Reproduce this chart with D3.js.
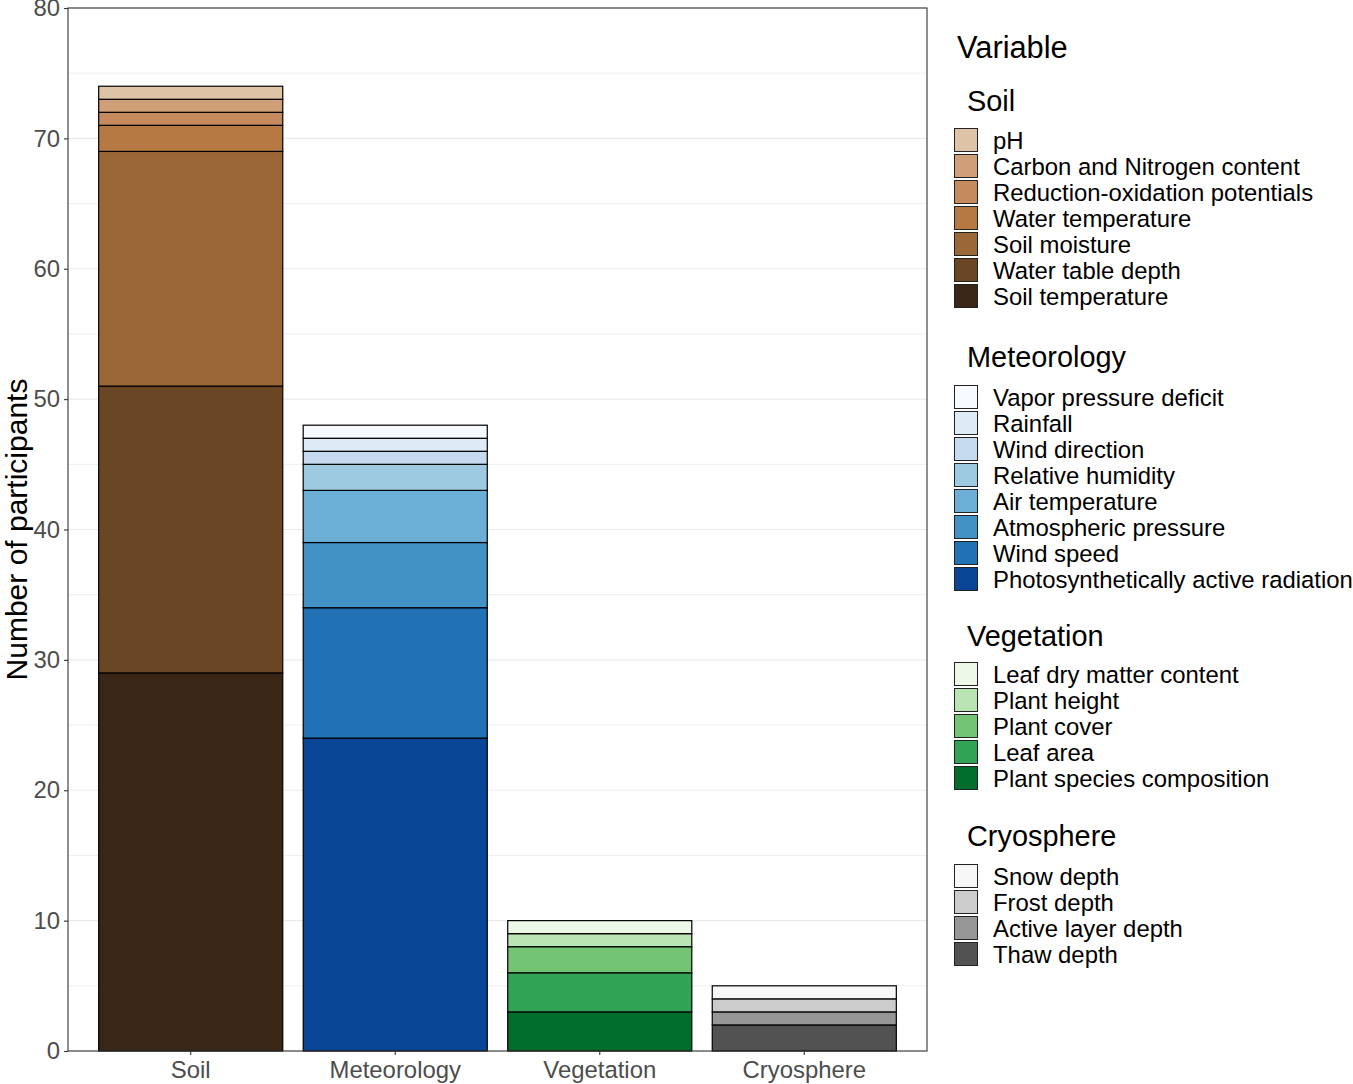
<!DOCTYPE html>
<html>
<head>
<meta charset="utf-8">
<script src="https://cdn.jsdelivr.net/npm/d3@7/dist/d3.min.js"></script>
<style>
  html, body { margin: 0; padding: 0; background: #fff; }
  text { font-family: "Liberation Sans", Arial, sans-serif; }
</style>
</head>
<body>
<svg id="chart" width="1353" height="1084"></svg>
<script>
// ---- Data (legend order = top of stack first) ----
const categories = ["Soil", "Meteorology", "Vegetation", "Cryosphere"];

const soilVars   = ["pH", "Carbon and Nitrogen content", "Reduction-oxidation potentials", "Water temperature", "Soil moisture", "Water table depth", "Soil temperature"];
const soilCounts = [1, 1, 1, 2, 18, 22, 29];
const soilColors = ["#dfc3a7", "#cf9f77", "#c58a5d", "#b77944", "#9c6737", "#6b4625", "#3a2616"];

const meteoVars   = ["Vapor pressure deficit", "Rainfall", "Wind direction", "Relative humidity", "Air temperature", "Atmospheric pressure", "Wind speed", "Photosynthetically active radiation"];
const meteoCounts = [1, 1, 1, 2, 4, 5, 10, 24];
const meteoColors = ["#f7fbff", "#deebf7", "#c6dbef", "#9ecae1", "#6baed6", "#4292c6", "#2171b5", "#084594"];

const vegVars   = ["Leaf dry matter content", "Plant height", "Plant cover", "Leaf area", "Plant species composition"];
const vegCounts = [1, 1, 2, 3, 3];
const vegColors = ["#edf8e9", "#bae4b3", "#74c476", "#31a354", "#006d2c"];

const cryoVars   = ["Snow depth", "Frost depth", "Active layer depth", "Thaw depth"];
const cryoCounts = [1, 1, 1, 2];
const cryoColors = ["#f7f7f7", "#cccccc", "#969696", "#525252"];

const yTicks = [0, 10, 20, 30, 40, 50, 60, 70, 80];
const yMinor = [5, 15, 25, 35, 45, 55, 65, 75];
const yTitle = "Number of participants";
const legendTitle = "Variable";

const groups = [
  { name: categories[0], vars: soilVars,  counts: soilCounts,  colors: soilColors },
  { name: categories[1], vars: meteoVars, counts: meteoCounts, colors: meteoColors },
  { name: categories[2], vars: vegVars,   counts: vegCounts,   colors: vegColors },
  { name: categories[3], vars: cryoVars,  counts: cryoCounts,  colors: cryoColors }
];

// ---- Layout ----
const svg = d3.select("#chart");
const panel = { left: 68, right: 927, top: 8, bottom: 1051 };

const x = d3.scaleBand().domain(categories)
  .range([panel.left, panel.right]).paddingInner(0.1).paddingOuter(0.15);
const y = d3.scaleLinear().domain([0, 80]).range([panel.bottom, panel.top]);

// gridlines
const grid = svg.append("g");
grid.selectAll("line.minor").data(yMinor).join("line")
  .attr("x1", panel.left).attr("x2", panel.right)
  .attr("y1", d => y(d)).attr("y2", d => y(d))
  .attr("stroke", "#ebebeb").attr("stroke-width", 0.8);
grid.selectAll("line.major").data(yTicks).join("line")
  .attr("x1", panel.left).attr("x2", panel.right)
  .attr("y1", d => y(d)).attr("y2", d => y(d))
  .attr("stroke", "#ebebeb").attr("stroke-width", 1.2);

// stacked bars
groups.forEach(g => {
  let cum = 0;
  const segs = [];
  for (let i = g.vars.length - 1; i >= 0; i--) {
    segs.push({ v: g.vars[i], y0: cum, y1: cum + g.counts[i], c: g.colors[i] });
    cum += g.counts[i];
  }
  svg.append("g").selectAll("rect").data(segs).join("rect")
    .attr("x", x(g.name))
    .attr("width", x.bandwidth())
    .attr("y", d => y(d.y1))
    .attr("height", d => y(d.y0) - y(d.y1))
    .attr("fill", d => d.c)
    .attr("stroke", "#000")
    .attr("stroke-width", 1.2);
});

// panel border
svg.append("rect")
  .attr("x", panel.left).attr("y", panel.top)
  .attr("width", panel.right - panel.left).attr("height", panel.bottom - panel.top)
  .attr("fill", "none").attr("stroke", "#333").attr("stroke-width", 1.1);

// y axis
const yAxis = svg.append("g")
  .attr("transform", `translate(${panel.left},0)`)
  .call(d3.axisLeft(y).tickValues(yTicks).tickSize(4).tickPadding(4).tickFormat(d3.format("d")));
yAxis.select(".domain").remove();
yAxis.selectAll(".tick line").attr("stroke", "#333").attr("stroke-width", 1.1);
yAxis.selectAll(".tick text").attr("fill", "#4d4d4d").attr("font-size", "23.9px")
  .attr("font-family", "Liberation Sans, Arial, sans-serif");

// x axis
const xAxis = svg.append("g")
  .attr("transform", `translate(0,${panel.bottom})`)
  .call(d3.axisBottom(x).tickSize(4).tickPadding(6));
xAxis.select(".domain").remove();
xAxis.selectAll(".tick line").attr("stroke", "#333").attr("stroke-width", 1.1);
xAxis.selectAll(".tick text").attr("fill", "#4d4d4d").attr("font-size", "23.9px")
  .attr("font-family", "Liberation Sans, Arial, sans-serif");

// y title
svg.append("text")
  .attr("transform", `translate(27,${(panel.top + panel.bottom) / 2}) rotate(-90)`)
  .attr("text-anchor", "middle")
  .attr("font-size", "30px").attr("fill", "#000")
  .text(yTitle);

// ---- Legend ----
const leg = svg.append("g");
leg.append("text").attr("x", 957).attr("y", 58)
  .attr("font-size", "30.8px").attr("fill", "#000").text(legendTitle);

const titleBaselines = [111, 367, 646, 846];
const keyTops = [128, 385, 662, 864];
const keySize = 24, keyStep = 26;
groups.forEach((g, gi) => {
  leg.append("text").attr("x", 967).attr("y", titleBaselines[gi])
    .attr("font-size", "28.9px").attr("fill", "#000").text(g.name);
  g.vars.forEach((v, i) => {
    const t = keyTops[gi] + i * keyStep;
    leg.append("rect").attr("x", 954.5).attr("y", t + 0.5)
      .attr("width", keySize - 1).attr("height", keySize - 1)
      .attr("fill", g.colors[i]).attr("stroke", "#222").attr("stroke-width", 1);
    leg.append("text").attr("x", 993).attr("y", t + keySize / 2)
      .attr("dy", "0.36em")
      .attr("font-size", "23.9px").attr("fill", "#000").text(v);
  });
});
</script>
</body>
</html>
